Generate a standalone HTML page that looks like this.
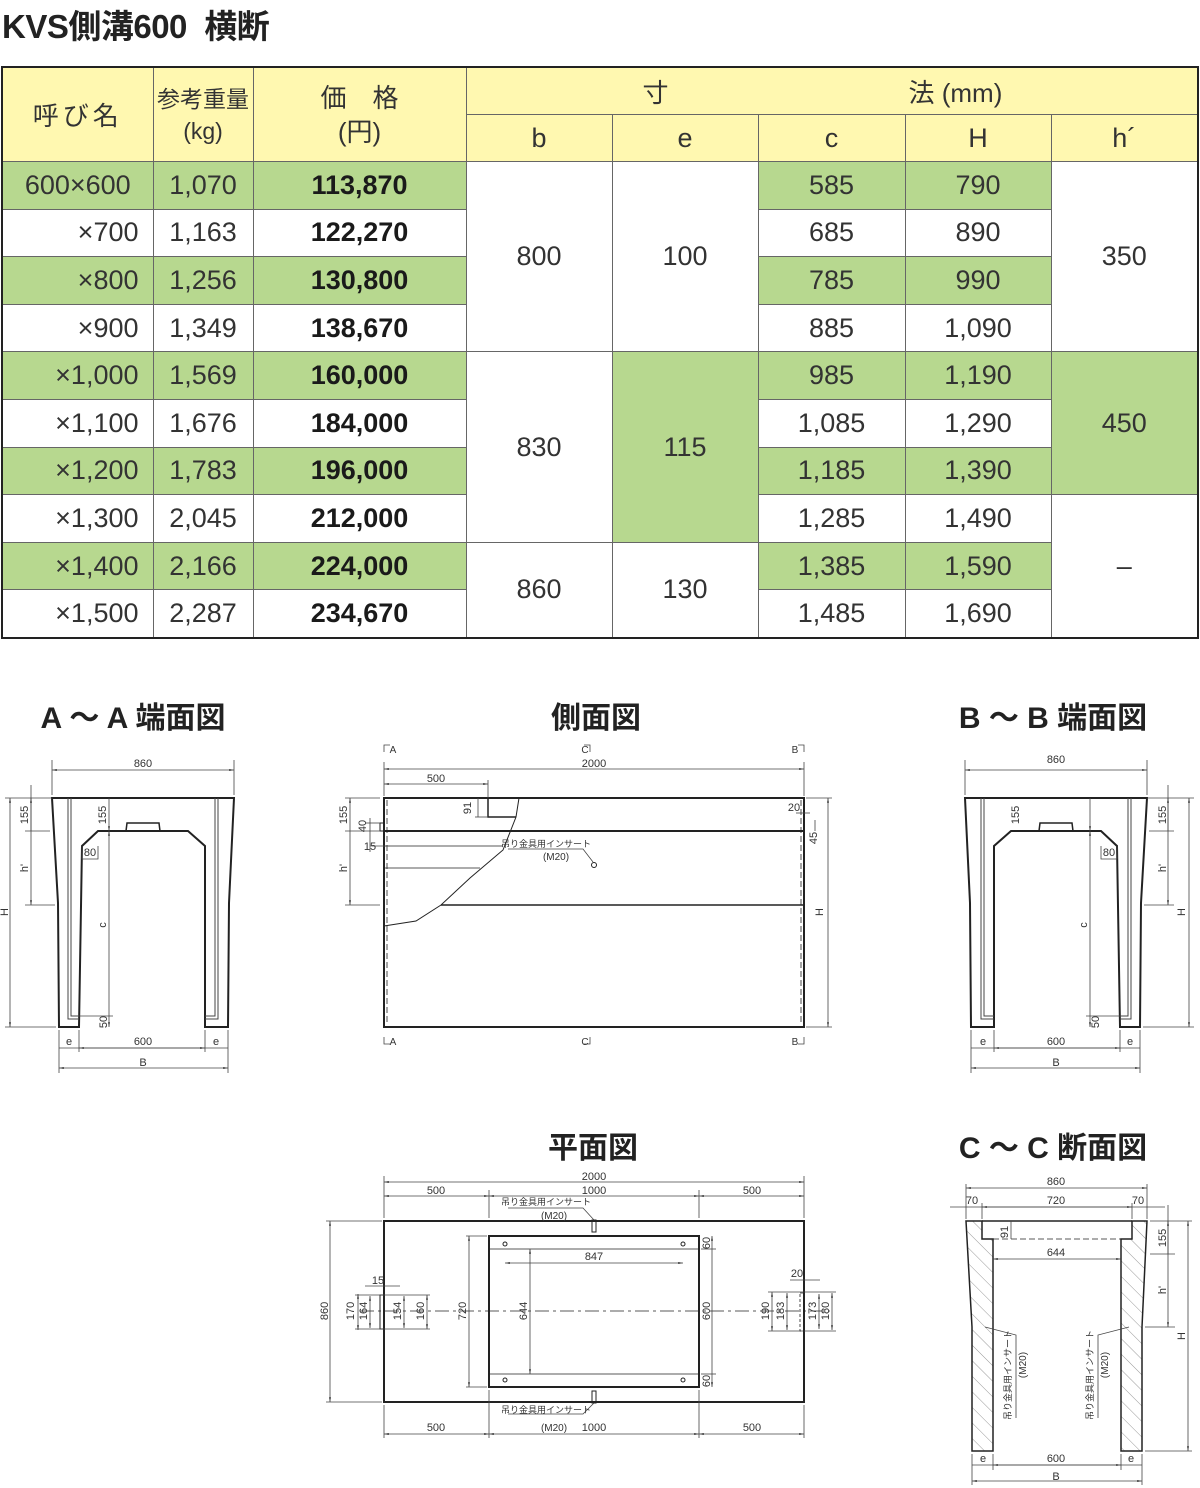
<!DOCTYPE html>
<html><head><meta charset="utf-8"><style>
body{margin:0;width:1200px;height:1488px;background:#fff;position:relative;overflow:hidden;font-family:"Liberation Sans","Noto Sans CJK JP",sans-serif;color:#222}
.title{position:absolute;left:2px;top:0;font-size:33px;font-weight:bold;letter-spacing:-0.5px}
table{position:absolute;left:1px;top:66px;border-collapse:collapse;border:2px solid #222;table-layout:fixed}
td{border:1px solid #666;text-align:center;font-size:27px;padding:0;height:46.6px;color:#333}
td.r{text-align:right;padding-right:14px}
td.p{font-weight:bold;color:#1a1a1a}
.y{background:#fff8b0}.g{background:#b7d88f}
.hd td{height:46px}
svg{position:absolute;left:0;top:0}
</style></head><body>
<div class="title">KVS側溝600&nbsp; 横断</div>
<table>
<colgroup><col style="width:151px"><col style="width:100px"><col style="width:213px"><col style="width:146px"><col style="width:146px"><col style="width:147px"><col style="width:146px"><col style="width:147px"></colgroup>
<tr class="hd"><td class="y" rowspan="2" style="font-size:26px;letter-spacing:4px">呼び名</td><td class="y" rowspan="2" style="font-size:23px;line-height:32px">参考重量<br>(kg)</td><td class="y" rowspan="2" style="font-size:26px;line-height:34px">価　格<br>(円)</td><td class="y" colspan="5" style="font-size:26px;text-align:left;padding-left:176px;word-spacing:0">寸<span style="display:inline-block;width:240px"></span>法 (mm)</td></tr>
<tr class="hd"><td class="y">b</td><td class="y">e</td><td class="y">c</td><td class="y">H</td><td class="y">h´</td></tr>
<tr><td class="g">600×600</td><td class="g">1,070</td><td class="g p">113,870</td><td rowspan="4">800</td><td rowspan="4">100</td><td class="g">585</td><td class="g">790</td><td rowspan="4">350</td></tr>
<tr><td class="r">×700</td><td>1,163</td><td class="p">122,270</td><td>685</td><td>890</td></tr>
<tr><td class="g r">×800</td><td class="g">1,256</td><td class="g p">130,800</td><td class="g">785</td><td class="g">990</td></tr>
<tr><td class="r">×900</td><td>1,349</td><td class="p">138,670</td><td>885</td><td>1,090</td></tr>
<tr><td class="g r">×1,000</td><td class="g">1,569</td><td class="g p">160,000</td><td rowspan="4">830</td><td rowspan="4" class="g">115</td><td class="g">985</td><td class="g">1,190</td><td rowspan="3" class="g">450</td></tr>
<tr><td class="r">×1,100</td><td>1,676</td><td class="p">184,000</td><td>1,085</td><td>1,290</td></tr>
<tr><td class="g r">×1,200</td><td class="g">1,783</td><td class="g p">196,000</td><td class="g">1,185</td><td class="g">1,390</td></tr>
<tr><td class="r">×1,300</td><td>2,045</td><td class="p">212,000</td><td>1,285</td><td>1,490</td><td rowspan="3">–</td></tr>
<tr><td class="g r">×1,400</td><td class="g">2,166</td><td class="g p">224,000</td><td rowspan="2">860</td><td rowspan="2">130</td><td class="g">1,385</td><td class="g">1,590</td></tr>
<tr><td class="r">×1,500</td><td>2,287</td><td class="p">234,670</td><td>1,485</td><td>1,690</td></tr>
</table>

<svg width="1200" height="1488" viewBox="0 0 1200 1488" font-family="Liberation Sans, Noto Sans CJK JP, sans-serif">
<defs>
<marker id="a" viewBox="0 0 10 10" refX="10" refY="5" markerWidth="6" markerHeight="6" orient="auto-start-reverse"><path d="M0,3L10,5L0,7z" fill="#333"/></marker>
<pattern id="hat" width="11" height="11" patternUnits="userSpaceOnUse" patternTransform="rotate(-45)"><line x1="0" y1="0" x2="0" y2="11" stroke="#999" stroke-width="1"/></pattern>
<g id="aa">
<path d="M52,798 L234,798 L229,903 L228,1027 L205,1027 L205,846 L188,831 L98,831 L82,846 L79,1027 L59,1027 L58,903 Z" fill="none" stroke="#222" stroke-width="2"/>
<path d="M126,831 L127,823 L159,823 L160,831" fill="none" stroke="#222" stroke-width="1.5"/>
<path d="M68,798V1019H79 M71,798V1016H79 M218,798V1019H205 M215,798V1016H205" fill="none" stroke="#444" stroke-width="1"/>
<g stroke="#444" stroke-width="0.8" fill="none">
<line x1="52" y1="770" x2="234" y2="770" marker-start="url(#a)" marker-end="url(#a)"/>
<line x1="52" y1="760" x2="52" y2="795"/><line x1="234" y1="760" x2="234" y2="795"/>
<line x1="10" y1="798" x2="10" y2="1027" marker-start="url(#a)" marker-end="url(#a)"/>
<line x1="5" y1="798" x2="52" y2="798"/><line x1="5" y1="1027" x2="56" y2="1027"/>
<line x1="31" y1="785" x2="31" y2="905" marker-end="url(#a)"/>
<line x1="31" y1="831" x2="31" y2="798" marker-end="url(#a)"/>
<line x1="25" y1="831" x2="50" y2="831"/><line x1="25" y1="905" x2="55" y2="905"/>
<line x1="109" y1="798" x2="109" y2="831" marker-end="url(#a)"/>
<line x1="109" y1="831" x2="109" y2="1027" marker-start="url(#a)" marker-end="url(#a)"/>
<line x1="79" y1="1016" x2="113" y2="1016"/>
<line x1="59" y1="1030" x2="59" y2="1073"/><line x1="79" y1="1030" x2="79" y2="1052"/><line x1="205" y1="1030" x2="205" y2="1052"/><line x1="228" y1="1030" x2="228" y2="1073"/>
<line x1="79" y1="1048" x2="205" y2="1048" marker-start="url(#a)" marker-end="url(#a)"/>
<line x1="59" y1="1048" x2="228" y2="1048"/>
<line x1="59" y1="1068" x2="228" y2="1068" marker-start="url(#a)" marker-end="url(#a)"/>
<path d="M82,846V859H98V846"/>
</g>
</g>
</defs>

<g text-anchor="middle" font-size="30" font-weight="bold" fill="#222">
<text x="133" y="728">A ～ A 端面図</text>
<text x="596" y="728">側面図</text>
<text x="1053" y="728">B ～ B 端面図</text>
<text x="593" y="1158">平面図</text>
<text x="1053" y="1158">C ～ C 断面図</text>
</g>

<use href="#aa"/>
<g font-size="11" fill="#333" text-anchor="middle">
<text x="143" y="767">860</text>
<text x="143" y="1045">600</text><text x="69" y="1045">e</text><text x="216" y="1045">e</text>
<text x="143" y="1066">B</text>
<text x="90" y="856">80</text>
<text transform="translate(8,912) rotate(-90)">H</text>
<text transform="translate(28,815) rotate(-90)">155</text>
<text transform="translate(28,868) rotate(-90)">h'</text>
<text transform="translate(106,815) rotate(-90)">155</text>
<text transform="translate(106,925) rotate(-90)">c</text>
<text transform="translate(107,1022) rotate(-90)">50</text>
</g>
<use href="#aa" transform="translate(1199,0) scale(-1,1)"/>
<g font-size="11" fill="#333" text-anchor="middle">
<text x="1056" y="763">860</text>
<text x="1056" y="1045">600</text><text x="983" y="1045">e</text><text x="1130" y="1045">e</text>
<text x="1056" y="1066">B</text>
<text x="1109" y="856">80</text>
<text transform="translate(1185,912) rotate(-90)">H</text>
<text transform="translate(1166,815) rotate(-90)">155</text>
<text transform="translate(1166,868) rotate(-90)">h'</text>
<text transform="translate(1019,815) rotate(-90)">155</text>
<text transform="translate(1087,925) rotate(-90)">c</text>
<text transform="translate(1099,1022) rotate(-90)">50</text>
</g>

<g fill="none" stroke="#222">
<rect x="384" y="798" width="420" height="229" stroke-width="2"/>
<line x1="384" y1="831" x2="804" y2="831" stroke-width="2"/>
<line x1="441" y1="905" x2="804" y2="905" stroke-width="1.5"/>
<line x1="384" y1="846" x2="503" y2="846" stroke-width="0.8"/>
<line x1="384" y1="868" x2="480" y2="868" stroke-width="0.8"/>
<path d="M519,798 L516,817 L503,850 L470,878 L441,905 L416,921 L384,926" stroke-width="1"/>
<path d="M488,798 V817 H516" stroke-width="1.5"/>
<rect x="380" y="823" width="4" height="8" stroke-width="1"/>
<line x1="387" y1="800" x2="387" y2="1025" stroke-dasharray="6,3" stroke-width="0.8"/>
<line x1="801" y1="800" x2="801" y2="1025" stroke-dasharray="6,3" stroke-width="0.8"/>
<g stroke="#444" stroke-width="0.8">
<line x1="384" y1="769" x2="804" y2="769" marker-start="url(#a)" marker-end="url(#a)"/>
<line x1="384" y1="784" x2="488" y2="784" marker-start="url(#a)" marker-end="url(#a)"/>
<line x1="384" y1="762" x2="384" y2="796"/><line x1="804" y1="762" x2="804" y2="796"/><line x1="488" y1="780" x2="488" y2="798"/>
<line x1="350" y1="798" x2="350" y2="905" marker-start="url(#a)" marker-end="url(#a)"/>
<line x1="345" y1="831" x2="380" y2="831"/><line x1="345" y1="905" x2="380" y2="905"/><line x1="345" y1="798" x2="380" y2="798"/>
<line x1="370" y1="818" x2="370" y2="852"/><line x1="365" y1="823" x2="380" y2="823"/><line x1="372" y1="846" x2="390" y2="846"/>
<line x1="475" y1="817" x2="488" y2="817"/><line x1="478" y1="798" x2="478" y2="817"/>
<line x1="828" y1="798" x2="828" y2="1027" marker-start="url(#a)" marker-end="url(#a)"/>
<line x1="806" y1="1027" x2="832" y2="1027"/><line x1="806" y1="798" x2="832" y2="798"/>
<line x1="815" y1="820" x2="815" y2="831"/><line x1="796" y1="813" x2="810" y2="813"/>
<path d="M508,849 H583 L593,862"/>
<path d="M384,752V745H390 M804,752V745H798 M590,752V745H584 M384,1037V1044H390 M804,1037V1044H798 M590,1037V1044H584"/>
</g>
<circle cx="594" cy="865" r="2.5" stroke-width="1"/>
</g>
<g font-size="11" fill="#333" text-anchor="middle">
<text x="594" y="767">2000</text><text x="436" y="782">500</text>
<text x="393" y="753" font-size="10">A</text><text x="585" y="753" font-size="10">C</text><text x="795" y="753" font-size="10">B</text>
<text x="393" y="1045" font-size="10">A</text><text x="585" y="1045" font-size="10">C</text><text x="795" y="1045" font-size="10">B</text>
<text x="794" y="811">20</text><text x="370" y="850">15</text>
<text transform="translate(347,815) rotate(-90)">155</text>
<text transform="translate(366,826) rotate(-90)">40</text>
<text transform="translate(347,868) rotate(-90)">h'</text>
<text transform="translate(471,808) rotate(-90)">91</text>
<text transform="translate(817,838) rotate(-90)">45</text>
<text transform="translate(823,912) rotate(-90)">H</text>
<text x="546" y="847" font-size="9">吊り金具用インサート</text>
<text x="556" y="860" font-size="10">(M20)</text>
</g>

<g fill="none" stroke="#222">
<rect x="384" y="1221" width="420" height="181" stroke-width="2"/>
<rect x="489" y="1236" width="210" height="151" stroke-width="2"/>
<line x1="489" y1="1249" x2="699" y2="1249" stroke-width="0.8"/>
<line x1="489" y1="1374" x2="699" y2="1374" stroke-width="0.8"/>
<line x1="360" y1="1311" x2="830" y2="1311" stroke-dasharray="14,4,3,4" stroke-width="0.8"/>
<rect x="380" y="1295" width="4" height="34" stroke-width="1"/>
<rect x="592" y="1220" width="4" height="12" stroke-width="1"/><rect x="592" y="1391" width="4" height="12" stroke-width="1"/>
<circle cx="505" cy="1244" r="2"/><circle cx="683" cy="1244" r="2"/><circle cx="505" cy="1380" r="2"/><circle cx="683" cy="1380" r="2"/>
<g stroke="#444" stroke-width="0.8">
<line x1="384" y1="1182" x2="804" y2="1182" marker-start="url(#a)" marker-end="url(#a)"/>
<line x1="384" y1="1196" x2="489" y2="1196" marker-start="url(#a)" marker-end="url(#a)"/>
<line x1="489" y1="1196" x2="699" y2="1196" marker-start="url(#a)" marker-end="url(#a)"/>
<line x1="699" y1="1196" x2="804" y2="1196" marker-start="url(#a)" marker-end="url(#a)"/>
<line x1="384" y1="1434" x2="489" y2="1434" marker-start="url(#a)" marker-end="url(#a)"/>
<line x1="489" y1="1434" x2="699" y2="1434" marker-start="url(#a)" marker-end="url(#a)"/>
<line x1="699" y1="1434" x2="804" y2="1434" marker-start="url(#a)" marker-end="url(#a)"/>
<line x1="384" y1="1176" x2="384" y2="1218"/><line x1="804" y1="1176" x2="804" y2="1218"/><line x1="489" y1="1190" x2="489" y2="1218"/><line x1="699" y1="1190" x2="699" y2="1218"/>
<line x1="384" y1="1405" x2="384" y2="1438"/><line x1="804" y1="1405" x2="804" y2="1438"/><line x1="489" y1="1390" x2="489" y2="1438"/><line x1="699" y1="1390" x2="699" y2="1438"/>
<line x1="330" y1="1221" x2="330" y2="1402" marker-start="url(#a)" marker-end="url(#a)"/>
<line x1="326" y1="1221" x2="382" y2="1221"/><line x1="326" y1="1402" x2="382" y2="1402"/>
<line x1="469" y1="1236" x2="469" y2="1387" marker-start="url(#a)" marker-end="url(#a)"/>
<line x1="466" y1="1236" x2="487" y2="1236"/><line x1="466" y1="1387" x2="487" y2="1387"/>
<line x1="530" y1="1249" x2="530" y2="1374" marker-start="url(#a)" marker-end="url(#a)"/>
<line x1="505" y1="1263" x2="683" y2="1263" marker-start="url(#a)" marker-end="url(#a)"/>
<line x1="712" y1="1236" x2="712" y2="1387" marker-start="url(#a)" marker-end="url(#a)"/>
<line x1="701" y1="1249" x2="716" y2="1249"/><line x1="701" y1="1374" x2="716" y2="1374"/>
<line x1="358" y1="1294" x2="358" y2="1330" marker-start="url(#a)" marker-end="url(#a)"/>
<line x1="370" y1="1296" x2="370" y2="1328" marker-start="url(#a)" marker-end="url(#a)"/>
<line x1="404" y1="1296" x2="404" y2="1328" marker-start="url(#a)" marker-end="url(#a)"/>
<line x1="427" y1="1295" x2="427" y2="1329" marker-start="url(#a)" marker-end="url(#a)"/>
<line x1="355" y1="1295" x2="430" y2="1295"/><line x1="355" y1="1329" x2="430" y2="1329"/>
<line x1="365" y1="1286" x2="400" y2="1286"/>
<line x1="772" y1="1292" x2="772" y2="1331" marker-start="url(#a)" marker-end="url(#a)"/>
<line x1="787" y1="1293" x2="787" y2="1330" marker-start="url(#a)" marker-end="url(#a)"/>
<line x1="819" y1="1294" x2="819" y2="1329" marker-start="url(#a)" marker-end="url(#a)"/>
<line x1="832" y1="1293" x2="832" y2="1330" marker-start="url(#a)" marker-end="url(#a)"/>
<line x1="768" y1="1292" x2="836" y2="1292"/><line x1="768" y1="1331" x2="836" y2="1331"/>
<line x1="790" y1="1280" x2="820" y2="1280"/>
<path d="M508,1208 H583 L594,1220 M508,1414 H583 L594,1403"/>
</g>
<rect x="800" y="1293" width="4" height="38" stroke-dasharray="3,2" stroke-width="0.8"/>
</g>
<g font-size="11" fill="#333" text-anchor="middle">
<text x="594" y="1180">2000</text>
<text x="436" y="1194">500</text><text x="594" y="1194">1000</text><text x="752" y="1194">500</text>
<text x="436" y="1431">500</text><text x="594" y="1431">1000</text><text x="752" y="1431">500</text>
<text x="546" y="1205" font-size="9">吊り金具用インサート</text><text x="554" y="1219" font-size="10">(M20)</text>
<text x="546" y="1413" font-size="9">吊り金具用インサート</text><text x="554" y="1431" font-size="10">(M20)</text>
<text x="594" y="1260">847</text>
<text x="378" y="1284">15</text><text x="797" y="1277">20</text>
<text transform="translate(328,1311) rotate(-90)">860</text>
<text transform="translate(466,1311) rotate(-90)">720</text>
<text transform="translate(527,1311) rotate(-90)">644</text>
<text transform="translate(710,1311) rotate(-90)">600</text>
<text transform="translate(710,1243) rotate(-90)">60</text>
<text transform="translate(710,1381) rotate(-90)">60</text>
<text transform="translate(354,1311) rotate(-90)">170</text>
<text transform="translate(367,1311) rotate(-90)">164</text>
<text transform="translate(401,1311) rotate(-90)">154</text>
<text transform="translate(424,1311) rotate(-90)">160</text>
<text transform="translate(769,1311) rotate(-90)">190</text>
<text transform="translate(784,1311) rotate(-90)">183</text>
<text transform="translate(816,1311) rotate(-90)">173</text>
<text transform="translate(829,1311) rotate(-90)">180</text>
</g>

<g stroke="#222" fill="none">
<path d="M966,1221 L982,1221 L982,1239 L993,1239 L993,1451 L972,1451 L972,1327 Z" fill="url(#hat)" stroke-width="1.5"/>
<path d="M1147,1221 L1132,1221 L1132,1239 L1121,1239 L1121,1451 L1142,1451 L1142,1327 Z" fill="url(#hat)" stroke-width="1.5"/>
<line x1="982" y1="1221" x2="1132" y2="1221" stroke-width="1.5"/>
<line x1="993" y1="1239" x2="1121" y2="1239" stroke-dasharray="6,3" stroke-width="0.8"/>
<g stroke="#444" stroke-width="0.8">
<line x1="966" y1="1188" x2="1147" y2="1188" marker-start="url(#a)" marker-end="url(#a)"/>
<line x1="982" y1="1207" x2="1132" y2="1207" marker-start="url(#a)" marker-end="url(#a)"/>
<line x1="950" y1="1207" x2="1165" y2="1207"/>
<line x1="966" y1="1184" x2="966" y2="1219"/><line x1="1147" y1="1184" x2="1147" y2="1219"/><line x1="982" y1="1203" x2="982" y2="1219"/><line x1="1132" y1="1203" x2="1132" y2="1219"/>
<line x1="993" y1="1259" x2="1121" y2="1259" marker-start="url(#a)" marker-end="url(#a)"/>
<line x1="1011" y1="1221" x2="1011" y2="1239"/>
<line x1="1168" y1="1205" x2="1168" y2="1327" marker-end="url(#a)"/>
<line x1="1168" y1="1254" x2="1168" y2="1221" marker-end="url(#a)"/>
<line x1="1150" y1="1254" x2="1175" y2="1254"/><line x1="1145" y1="1327" x2="1175" y2="1327"/><line x1="1150" y1="1221" x2="1192" y2="1221"/>
<line x1="1188" y1="1221" x2="1188" y2="1451" marker-start="url(#a)" marker-end="url(#a)"/>
<line x1="1145" y1="1451" x2="1192" y2="1451"/>
<line x1="993" y1="1465" x2="1121" y2="1465" marker-start="url(#a)" marker-end="url(#a)"/>
<line x1="972" y1="1465" x2="1142" y2="1465"/>
<line x1="972" y1="1481" x2="1142" y2="1481" marker-start="url(#a)" marker-end="url(#a)"/>
<line x1="972" y1="1454" x2="972" y2="1485"/><line x1="993" y1="1454" x2="993" y2="1470"/><line x1="1121" y1="1454" x2="1121" y2="1470"/><line x1="1142" y1="1454" x2="1142" y2="1485"/>
<path d="M985,1327 L1016,1335 V1418 M1129,1327 L1098,1335 V1418"/>
</g>
</g>
<g font-size="11" fill="#333" text-anchor="middle">
<text x="1056" y="1185">860</text><text x="972" y="1204">70</text><text x="1056" y="1204">720</text><text x="1138" y="1204">70</text>
<text x="1056" y="1256">644</text>
<text x="1056" y="1462">600</text><text x="983" y="1462">e</text><text x="1131" y="1462">e</text><text x="1056" y="1480">B</text>
<text transform="translate(1008,1232) rotate(-90)">91</text>
<text transform="translate(1166,1238) rotate(-90)">155</text>
<text transform="translate(1166,1290) rotate(-90)">h'</text>
<text transform="translate(1185,1336) rotate(-90)">H</text>
<text transform="translate(1011,1375) rotate(-90)" font-size="9">吊り金具用インサート</text>
<text transform="translate(1026,1365) rotate(-90)" font-size="10">(M20)</text>
<text transform="translate(1093,1375) rotate(-90)" font-size="9">吊り金具用インサート</text>
<text transform="translate(1108,1365) rotate(-90)" font-size="10">(M20)</text>
</g>
</svg>
</body></html>
